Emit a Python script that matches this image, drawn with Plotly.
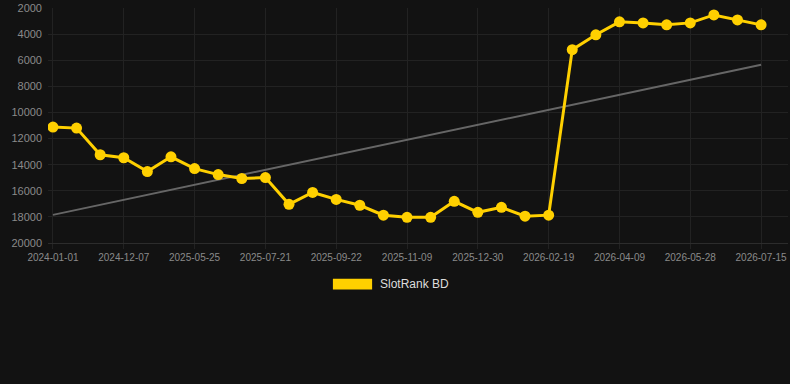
import numpy as np
import plotly.graph_objects as go

dates = [
    "2024-01-01", "2024-05-10", "2024-09-02", "2024-12-07", "2025-02-15", "2025-04-10",
    "2025-05-25", "2025-06-14", "2025-07-02", "2025-07-21", "2025-08-12", "2025-09-01",
    "2025-09-22", "2025-10-08", "2025-10-24", "2025-11-09", "2025-11-26", "2025-12-13",
    "2025-12-30", "2026-01-16", "2026-02-02", "2026-02-19", "2026-03-07", "2026-03-24",
    "2026-04-09", "2026-04-25", "2026-05-12", "2026-05-28", "2026-06-13", "2026-06-29",
    "2026-07-15",
]
rank = [
    11120, 11200, 13240, 13470, 14530, 13400, 14300, 14760, 15060, 14990,
    17040, 16130, 16660, 17110, 17870, 18030, 18030, 16810, 17650, 17270,
    17950, 17870, 5190, 4050, 3060, 3140, 3290, 3140, 2530, 2910, 3290,
]
tick_labels = dates[::3]
y_ticks = [2000, 4000, 6000, 8000, 10000, 12000, 14000, 16000, 18000, 20000]
series_name = "SlotRank BD"

GOLD = "#FFD000"
idx = np.arange(len(rank))
slope, intercept = np.polyfit(idx, rank, 1)
trend = [intercept + slope * i for i in (idx[0], idx[-1])]

fig = go.Figure()
fig.add_trace(go.Scatter(
    x=[dates[0], dates[-1]], y=trend, mode="lines",
    line=dict(color="#666666", width=2), showlegend=False, hoverinfo="skip",
))
fig.add_trace(go.Scatter(
    x=dates, y=rank, mode="lines+markers", name=series_name,
    line=dict(color=GOLD, width=3), marker=dict(color=GOLD, size=11),
    showlegend=False,
))

fig.update_layout(
    width=790, height=384,
    margin=dict(l=48, r=2, t=6, b=141),
    paper_bgcolor="#121212", plot_bgcolor="#121212",
    font=dict(family="Liberation Sans, Arial, sans-serif", color="#8a8a8a"),
    showlegend=False,
    xaxis=dict(
        type="category", categoryorder="array", categoryarray=dates,
        range=[-0.21, 31.14],
        tickvals=tick_labels, ticktext=tick_labels,
        tickfont=dict(size=10, color="#8a8a8a"),
        showgrid=True, gridcolor="#222222", gridwidth=1,
        showline=True, linecolor="#2c2c2c", linewidth=1,
        ticks="outside", ticklen=5, tickcolor="#222222",
        zeroline=False,
    ),
    yaxis=dict(
        range=[20001, 1999], tickvals=y_ticks,
        ticktext=[str(v) for v in y_ticks],
        tickfont=dict(size=11, color="#8a8a8a"),
        showgrid=True, gridcolor="#222222", gridwidth=1,
        zeroline=False, ticks="", ticklabelstandoff=5,
        ticklabeloverflow="allow",
    ),
    shapes=[dict(
        type="rect", xref="paper", yref="paper",
        x0=0.385, x1=0.438, y0=-0.198, y1=-0.152,
        fillcolor=GOLD, line=dict(width=0),
    )],
    annotations=[dict(
        text=series_name, xref="paper", yref="paper",
        x=0.446, y=-0.175, xanchor="left", yanchor="middle",
        showarrow=False, font=dict(size=12, color="#dddddd"),
    )],
)

fig.write_html("out.html")
